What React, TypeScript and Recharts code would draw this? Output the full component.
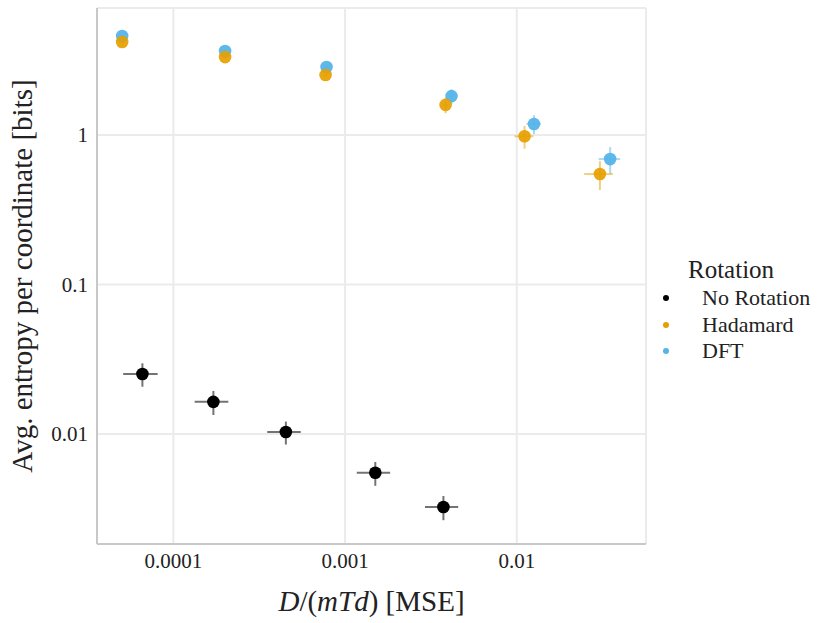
import {
  CartesianGrid,
  ErrorBar,
  Legend,
  Scatter,
  ScatterChart,
  XAxis,
  YAxis,
} from "recharts";

const FONT = "'Liberation Serif', 'DejaVu Serif', serif";
const TEXT = "#222222";

// axis ticks
const xTicks = [0.0001, 0.001, 0.01];
const xTickLabels = ["0.0001", "0.001", "0.01"];
const yTicks = [0.01, 0.1, 1];
const yTickLabels = ["0.01", "0.1", "1"];

// No Rotation
const noRotX = [6.6e-5, 1.71e-4, 4.52e-4, 1.5e-3, 3.74e-3];
const noRotY = [0.0252, 0.0164, 0.0103, 0.0055, 0.00325];
const noRotXErr = [1.5e-5, 3.8e-5, 1.0e-4, 3.3e-4, 8.2e-4];
const noRotYErr = [0.0045, 0.003, 0.0018, 0.001, 0.0006];

// Hadamard
const hadX = [5.03e-5, 2.0e-4, 7.7e-4, 3.85e-3, 0.0111, 0.0305];
const hadY = [4.19, 3.32, 2.52, 1.59, 0.98, 0.548];
const hadXErr = [1.5e-6, 6e-6, 2.5e-5, 1.2e-4, 0.0014, 0.0058];
const hadYErr = [0.1, 0.08, 0.07, 0.19, 0.17, 0.12];

// DFT
const dftX = [5.03e-5, 2.0e-4, 7.8e-4, 4.17e-3, 0.0126, 0.035];
const dftY = [4.59, 3.65, 2.85, 1.82, 1.185, 0.69];
const dftXErr = [1.5e-6, 6e-6, 2.5e-5, 1.7e-4, 0.0012, 0.005];
const dftYErr = [0.1, 0.08, 0.07, 0.2, 0.17, 0.14];

const toPoints = (xs: number[], ys: number[], exs: number[], eys: number[]) =>
  xs.map((x, i) => ({ x, y: ys[i], ex: exs[i], ey: eys[i] }));

const noRotData = toPoints(noRotX, noRotY, noRotXErr, noRotYErr);
const hadData = toPoints(hadX, hadY, hadXErr, hadYErr);
const dftData = toPoints(dftX, dftY, dftXErr, dftYErr);

const legendItems = [
  { name: "No Rotation", color: "#000000" },
  { name: "Hadamard", color: "#E69F00" },
  { name: "DFT", color: "#56B4E9" },
];

const XTick = (props: any) => {
  const i = xTicks.indexOf(props.payload.value);
  return (
    <text x={props.x} y={props.y + 24} textAnchor="middle" fontFamily={FONT} fontSize={21} fill={TEXT}>
      {xTickLabels[i] ?? props.payload.value}
    </text>
  );
};

const YTick = (props: any) => {
  const i = yTicks.indexOf(props.payload.value);
  return (
    <text x={props.x - 9} y={props.y} dy="0.34em" textAnchor="end" fontFamily={FONT} fontSize={21} fill={TEXT}>
      {yTickLabels[i] ?? props.payload.value}
    </text>
  );
};

const dot = (color: string, opacity: number) => (props: any) =>
  <circle cx={props.cx} cy={props.cy} r={6.3} fill={color} fillOpacity={opacity} />;

const renderLegend = () => (
  <div style={{ fontFamily: FONT, color: TEXT, textAlign: "left" }}>
    <div style={{ fontSize: 25, lineHeight: "30px", marginLeft: 33 }}>Rotation</div>
    {legendItems.map((item) => (
      <div
        key={item.name}
        style={{ display: "flex", alignItems: "center", height: 26.6, fontSize: 22, lineHeight: "26.6px" }}
      >
        <span
          style={{
            display: "inline-block",
            width: 6,
            height: 6,
            borderRadius: "50%",
            background: item.color,
            marginLeft: 8,
            marginRight: 33,
          }}
        />
        <span>{item.name}</span>
      </div>
    ))}
  </div>
);

export default function App() {
  return (
    <div style={{ position: "absolute", left: 0, top: 0, background: "#fff" }}>
      <ScatterChart width={833} height={623} margin={{ top: 8, right: 187, bottom: 0, left: 0 }}>
        <CartesianGrid stroke="#ebebeb" strokeWidth={2} />
        <XAxis
          dataKey="x"
          type="number"
          scale="log"
          domain={[3.59e-5, 0.0566]}
          allowDataOverflow
          ticks={xTicks}
          height={79}
          tickLine={false}
          tickSize={0}
          tickMargin={0}
          axisLine={{ stroke: "#c8c8c8", strokeWidth: 2 }}
          tick={XTick}
          label={{
            content: (p: any) => {
              const vb = p.viewBox || { x: 97, y: 544, width: 549 };
              return (
                <text x={vb.x + vb.width / 2} y={vb.y + 67} textAnchor="middle" fontFamily={FONT} fontSize={29} fill={TEXT}>
                  <tspan fontStyle="italic">D</tspan>
                  <tspan>/(</tspan>
                  <tspan fontStyle="italic">mTd</tspan>
                  <tspan>) [MSE]</tspan>
                </text>
              );
            },
          }}
        />
        <YAxis
          dataKey="y"
          type="number"
          scale="log"
          domain={[0.001837, 7.07]}
          allowDataOverflow
          ticks={yTicks}
          width={97}
          tickLine={false}
          tickSize={0}
          tickMargin={0}
          axisLine={{ stroke: "#c8c8c8", strokeWidth: 2 }}
          tick={YTick}
          label={{
            content: (p: any) => {
              const vb = p.viewBox || { x: 0, y: 8, height: 536 };
              const cy = vb.y + vb.height / 2;
              return (
                <text
                  x={32}
                  y={cy}
                  transform={`rotate(-90, 32, ${cy})`}
                  textAnchor="middle"
                  fontFamily={FONT}
                  fontSize={29}
                  fill={TEXT}
                >
                  Avg. entropy per coordinate [bits]
                </text>
              );
            },
          }}
        />
        <Legend
          layout="vertical"
          align="center"
          verticalAlign="middle"
          content={renderLegend}
          wrapperStyle={{ left: 655, top: 255, width: 175, height: 120 }}
        />
        <Scatter name="No Rotation" data={noRotData} shape={dot("#000000", 1)} isAnimationActive={false}>
          <ErrorBar dataKey="ex" direction="x" width={0} stroke="#000" strokeOpacity={0.55} strokeWidth={2} isAnimationActive={false} />
          <ErrorBar dataKey="ey" direction="y" width={0} stroke="#000" strokeOpacity={0.55} strokeWidth={2} isAnimationActive={false} />
        </Scatter>
        <Scatter name="DFT" data={dftData} shape={dot("#56B4E9", 0.95)} isAnimationActive={false}>
          <ErrorBar dataKey="ex" direction="x" width={0} stroke="#56B4E9" strokeOpacity={0.5} strokeWidth={2} isAnimationActive={false} />
          <ErrorBar dataKey="ey" direction="y" width={0} stroke="#56B4E9" strokeOpacity={0.5} strokeWidth={2} isAnimationActive={false} />
        </Scatter>
        <Scatter name="Hadamard" data={hadData} shape={dot("#E69F00", 0.92)} isAnimationActive={false}>
          <ErrorBar dataKey="ex" direction="x" width={0} stroke="#E69F00" strokeOpacity={0.5} strokeWidth={2} isAnimationActive={false} />
          <ErrorBar dataKey="ey" direction="y" width={0} stroke="#E69F00" strokeOpacity={0.5} strokeWidth={2} isAnimationActive={false} />
        </Scatter>
      </ScatterChart>
    </div>
  );
}
